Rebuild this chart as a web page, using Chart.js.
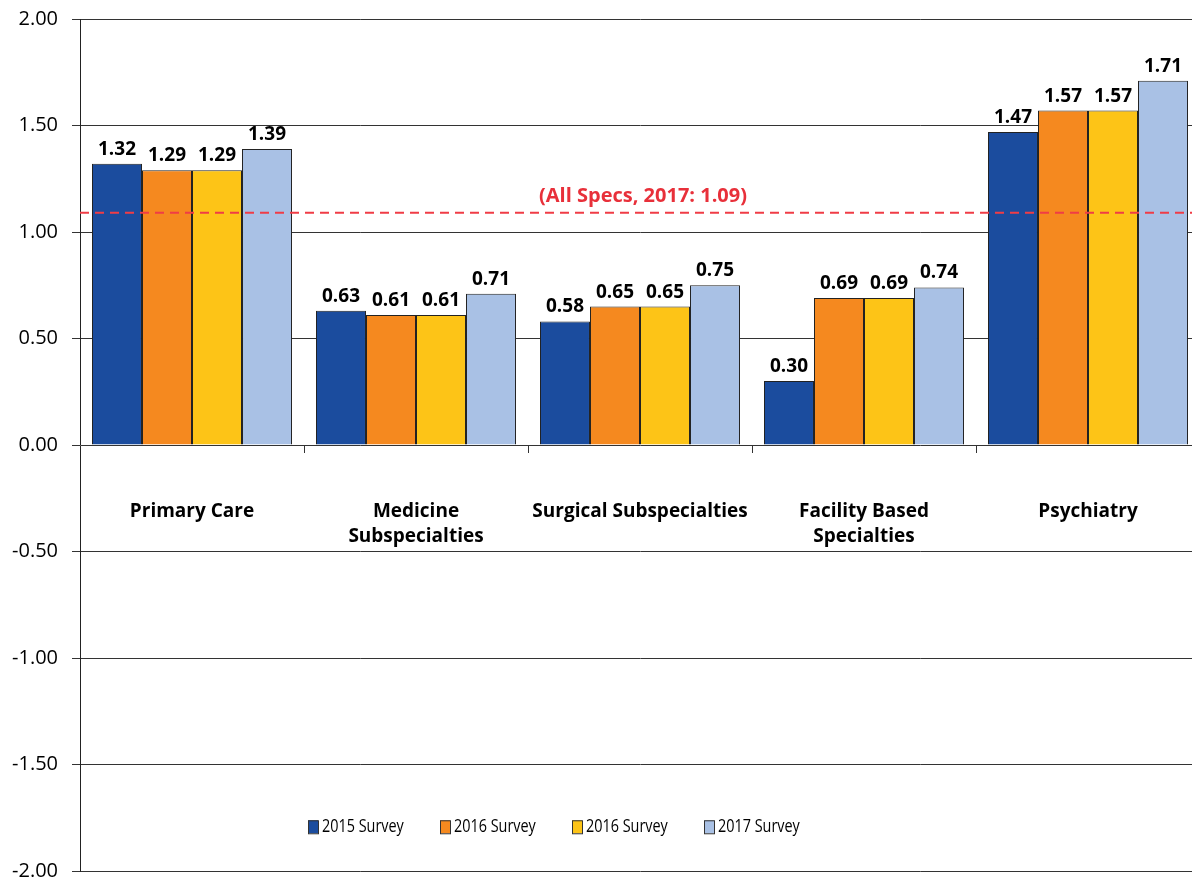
<!DOCTYPE html>
<html>
<head>
<meta charset="utf-8">
<script src="https://cdn.jsdelivr.net/npm/chart.js@4/dist/chart.umd.min.js"></script>
<style>
  html, body { margin: 0; padding: 0; background: #fff; overflow: hidden; }
  #wrap { width: 1212px; height: 879px; }
</style>
</head>
<body>
<div id="wrap"><canvas id="chart" width="1212" height="879"></canvas></div>
<script>
// chart data
const categories = [
    ['Primary Care'],
    ['Medicine', 'Subspecialties'],
    ['Surgical Subspecialties'],
    ['Facility Based', 'Specialties'],
    ['Psychiatry']
];
const seriesNames = ['2015 Survey', '2016 Survey', '2016 Survey', '2017 Survey'];
const survey2015 = [1.32, 0.63, 0.58, 0.30, 1.47];
const survey2016a = [1.29, 0.61, 0.65, 0.69, 1.57];
const survey2016b = [1.29, 0.61, 0.65, 0.69, 1.57];
const survey2017 = [1.39, 0.71, 0.75, 0.74, 1.71];
const allSpecsValue = 1.09;
const allSpecsLabel = '(All Specs, 2017: 1.09)';
const yTicks = [-2, -1.5, -1, -0.5, 0, 0.5, 1, 1.5, 2];

const colors = ['#1b4c9e', '#f5891f', '#fdc417', '#a9c1e5'];
const font = '"Open Sans", "Noto Sans", sans-serif';

// draws value labels, category names, reference line and legend
const extras = {
    id: 'extras',
    afterDatasetsDraw(chart) {
        const ctx = chart.ctx;
        const area = chart.chartArea;
        const y = chart.scales.y;
        const x = chart.scales.x;
        const zeroY = y.getPixelForValue(0);

        ctx.save();

        // value labels
        ctx.fillStyle = '#000';
        ctx.font = 'bold 19px ' + font;
        ctx.textAlign = 'center';
        ctx.textBaseline = 'alphabetic';
        chart.data.datasets.forEach((ds, i) => {
            chart.getDatasetMeta(i).data.forEach((bar, j) => {
                ctx.fillText(ds.data[j].toFixed(2), bar.x, bar.y - 9);
            });
        });

        // category tick marks on zero line
        ctx.strokeStyle = '#333';
        ctx.lineWidth = 1;
        const step = (area.right - area.left) / categories.length;
        for (let i = 1; i < categories.length; i++) {
            const px = Math.round(area.left + step * i) + 0.5;
            ctx.beginPath();
            ctx.moveTo(px, zeroY);
            ctx.lineTo(px, zeroY + 8);
            ctx.stroke();
        }

        // category names
        ctx.textBaseline = 'middle';
        categories.forEach((lines, i) => {
            const cx = x.getPixelForValue(i);
            lines.forEach((line, k) => {
                ctx.fillText(line, cx, zeroY + 67 + k * 25);
            });
        });

        // reference line
        const refY = y.getPixelForValue(allSpecsValue);
        ctx.strokeStyle = '#f03c46';
        ctx.lineWidth = 2;
        ctx.setLineDash([9, 6]);
        ctx.beginPath();
        ctx.moveTo(area.left, refY);
        ctx.lineTo(area.right, refY);
        ctx.stroke();
        ctx.setLineDash([]);
        ctx.fillStyle = '#e8303a';
        ctx.font = 'bold 20px ' + font;
        ctx.fillText(allSpecsLabel, 643, refY - 17);

        // legend (text is a little condensed in the original)
        ctx.font = '18px ' + font;
        ctx.textAlign = 'left';
        const legendY = y.getPixelForValue(-1.79);
        let lx = 308;
        seriesNames.forEach((name, i) => {
            ctx.fillStyle = colors[i];
            ctx.fillRect(lx, legendY - 6, 10, 13);
            ctx.strokeStyle = '#333';
            ctx.lineWidth = 1;
            ctx.strokeRect(lx + 0.5, legendY - 5.5, 10, 13);
            ctx.fillStyle = '#000';
            ctx.save();
            ctx.translate(lx + 14, legendY + 1);
            ctx.scale(0.8, 1);
            ctx.fillText(name, 0, 0);
            ctx.restore();
            lx += 132;
        });

        ctx.restore();
    }
};

const datasets = [survey2015, survey2016a, survey2016b, survey2017].map((data, i) => ({
    label: seriesNames[i],
    data: data,
    backgroundColor: colors[i],
    borderColor: '#222',
    borderWidth: 1,
    categoryPercentage: 0.893,
    barPercentage: 1.0
}));

new Chart(document.getElementById('chart'), {
    type: 'bar',
    data: {
        labels: categories.map(c => c.join(' ')),
        datasets: datasets
    },
    options: {
        responsive: false,
        animation: false,
        layout: { padding: { top: 19, bottom: 8, right: 12, left: 0 } },
        plugins: {
            legend: { display: false },
            tooltip: { enabled: false }
        },
        scales: {
            x: {
                ticks: { display: false },
                grid: { display: false, drawTicks: false },
                border: { display: false },
                afterFit(scale) {
                    scale.height = 0;
                    scale.paddingLeft = 0;
                    scale.paddingRight = 0;
                }
            },
            y: {
                min: -2,
                max: 2,
                afterBuildTicks(scale) {
                    scale.ticks = yTicks.map(v => ({ value: v }));
                },
                afterFit(scale) {
                    scale.width = 80;
                    scale.paddingTop = 0;
                    scale.paddingBottom = 0;
                },
                ticks: {
                    color: '#000',
                    font: { family: font, size: 20 },
                    padding: 14,
                    callback: v => v.toFixed(2)
                },
                grid: {
                    color: '#333',
                    lineWidth: 1,
                    tickLength: 8,
                    drawTicks: true
                },
                border: { display: true, color: '#222', width: 1 }
            }
        }
    },
    plugins: [extras]
});
</script>
</body>
</html>
